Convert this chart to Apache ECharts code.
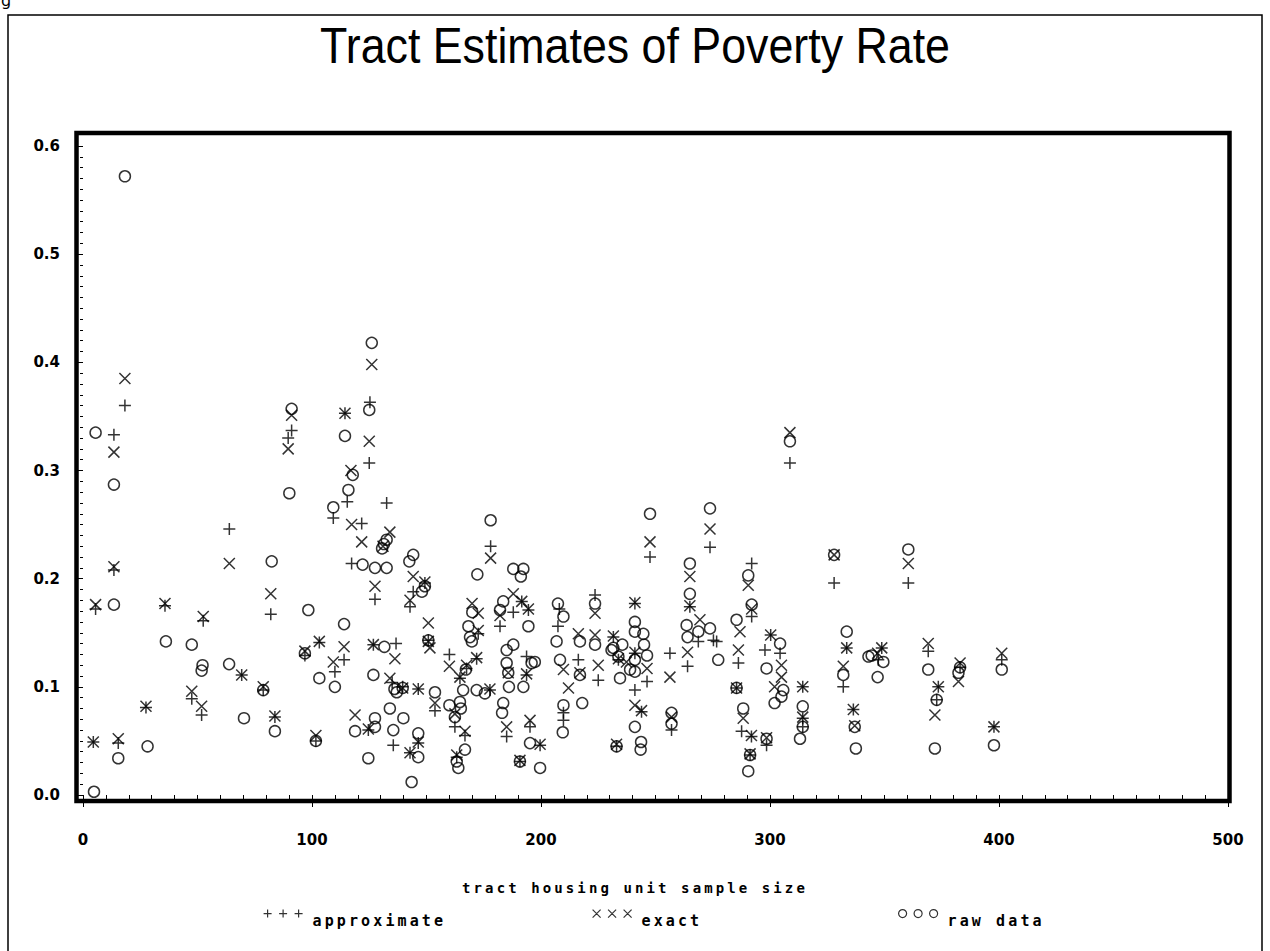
<!DOCTYPE html>
<html>
<head>
<meta charset="utf-8">
<script src="https://cdn.jsdelivr.net/npm/echarts@6/dist/echarts.min.js"></script>
<style>
  html, body { margin: 0; padding: 0; background: #fff; }
  #chart { width: 1270px; height: 951px; }
  #chart svg text[style*="Mono"] { letter-spacing: 3.1px; }
</style>
</head>
<body>
<div id="chart"></div>
<script>
// ---- data (x = tract housing unit sample size, y = poverty rate) ----
const approximate = [
[4.5,0.049],[5.5,0.172],[13.5,0.333],[13.5,0.208],[15.4,0.048],[18.3,0.360],[27.5,0.081],[35.8,0.175],[47.5,0.089],[51.8,0.074],[52.5,0.161],[63.9,0.246],[69.3,0.111],
[78.7,0.097],[82.0,0.167],[83.8,0.072],[89.6,0.330],[91.1,0.337],[96.9,0.129],[101.7,0.050],[103.2,0.141],[109.3,0.256],[110.0,0.114],[114.0,0.125],[114.4,0.353],[115.4,0.271],[117.3,0.214],[121.7,0.251],[124.6,0.060],[125.0,0.307],[125.3,0.363],[126.8,0.139],[127.5,0.181],[132.6,0.270],[135.0,0.104],[135.5,0.046],[136.7,0.140],
[139.6,0.100],[142.8,0.174],[142.8,0.039],[144.2,0.188],[146.4,0.098],[146.4,0.048],[149.3,0.196],[150.8,0.143],[153.7,0.078],[160.0,0.130],[162.4,0.063],[163.2,0.035],[164.6,0.108],[166.8,0.055],[167.5,0.117],[171.9,0.126],[172.6,0.149],[177.7,0.097],[178.0,0.230],[182.1,0.156],[185.0,0.054],[187.9,0.169],[190.8,0.031],[191.6,0.179],[193.7,0.128],[193.7,0.111],[194.5,0.171],[195.2,0.063],[199.6,0.046],
[207.4,0.156],[208.0,0.172],[209.8,0.076],[209.8,0.069],[216.3,0.125],[223.6,0.185],[225.0,0.106],[231.6,0.146],[233.0,0.045],[233.8,0.125],[241.0,0.177],[241.0,0.131],[241.0,0.097],[243.9,0.077],[246.3,0.105],[247.6,0.220],[256.3,0.131],[257.0,0.060],[264.0,0.119],[265.0,0.174],[268.7,0.142],[273.8,0.229],[275.3,0.143],
[276.7,0.142],[285.4,0.099],[286.2,0.122],[287.6,0.059],[291.3,0.037],[291.9,0.054],[292.0,0.214],[292.0,0.165],[297.8,0.134],[298.5,0.046],[300.3,0.148],[304.4,0.131],[308.7,0.307],[314.3,0.100],[314.3,0.071],[314.3,0.063],[328.0,0.196],[332.0,0.100],[333.5,0.136],[336.4,0.079],[347.3,0.125],[348.8,0.136],[360.4,0.196],[369.1,0.133],[372.8,0.088],[373.5,0.100],[383.0,0.118],[397.8,0.063],[401.2,0.125]
];
const exact = [
[4.5,0.049],[5.5,0.176],[13.5,0.317],[13.5,0.211],[15.4,0.052],[18.3,0.385],[27.5,0.082],[35.8,0.177],[47.5,0.096],[51.8,0.082],[52.5,0.165],[63.9,0.214],[69.3,0.111],
[78.7,0.100],[82.0,0.186],[83.8,0.073],[89.6,0.320],[91.1,0.351],[96.9,0.133],[101.7,0.055],[103.2,0.142],[109.3,0.123],[114.0,0.137],[114.4,0.353],[117.0,0.300],[117.3,0.250],[118.8,0.074],[121.7,0.234],[124.6,0.061],[125.0,0.327],[126.1,0.398],[126.8,0.139],[127.5,0.193],[131.0,0.230],[134.0,0.243],[134.0,0.108],[136.2,0.126],
[139.6,0.099],[142.8,0.180],[142.8,0.039],[144.2,0.202],[146.4,0.098],[146.4,0.049],[149.3,0.197],[150.8,0.159],[150.8,0.142],[151.5,0.136],[153.7,0.085],[160.0,0.119],[162.4,0.075],[163.2,0.037],[164.6,0.109],[166.8,0.059],[167.5,0.120],[169.9,0.177],[171.9,0.127],[172.6,0.168],[172.6,0.152],[177.7,0.098],[178.0,0.219],[182.1,0.166],[185.0,0.063],[185.7,0.113],[187.9,0.186],[190.8,0.032],[191.6,0.179],[193.7,0.112],[194.5,0.172],[195.2,0.069],[199.6,0.047],
[209.8,0.116],[212.0,0.099],[216.3,0.149],[217.0,0.113],[223.6,0.168],[223.6,0.148],[225.0,0.120],[231.6,0.147],[233.0,0.047],[233.8,0.126],[237.3,0.123],[241.0,0.178],[241.0,0.132],[241.0,0.083],[243.9,0.078],[246.3,0.117],[247.6,0.234],[256.3,0.109],[257.0,0.072],[264.0,0.132],[265.0,0.202],[265.0,0.175],[269.4,0.162],[273.8,0.246],
[285.4,0.099],[286.2,0.134],[286.9,0.151],[288.3,0.071],[290.5,0.194],[291.3,0.038],[291.9,0.055],[292.0,0.172],[298.5,0.053],[300.3,0.148],[302.0,0.100],[305.0,0.120],[305.0,0.109],[308.7,0.335],[314.3,0.100],[314.3,0.072],[328.0,0.222],[332.0,0.119],[333.5,0.136],[336.4,0.079],[337.0,0.064],[347.0,0.131],[348.8,0.136],[360.4,0.214],[369.1,0.140],[372.0,0.074],[373.5,0.100],[382.3,0.105],[383.0,0.122],[397.8,0.063],[401.2,0.131]
];
const rawData = [
[4.8,0.003],[5.5,0.335],[13.5,0.287],[13.5,0.176],[15.4,0.034],[18.3,0.572],[28.2,0.045],[36.2,0.142],[47.5,0.139],[51.8,0.115],[52.2,0.120],[63.8,0.121],[70.3,0.071],
[78.7,0.097],[82.4,0.216],[83.8,0.059],[90.1,0.279],[91.1,0.357],[96.9,0.131],[98.4,0.171],[101.7,0.050],[103.2,0.108],[109.3,0.266],[110.0,0.100],[114.0,0.158],[114.4,0.332],[115.9,0.282],[117.8,0.296],[118.8,0.059],[122.1,0.213],[124.6,0.034],[125.0,0.356],[126.1,0.418],[126.8,0.111],[127.5,0.210],[127.5,0.071],[127.5,0.063],[130.6,0.228],[131.4,0.232],[131.6,0.137],[132.6,0.236],[132.6,0.210],[134.0,0.080],[135.5,0.060],[136.0,0.098],[137.0,0.095],
[139.6,0.099],[139.9,0.071],[142.5,0.216],[143.5,0.012],[144.2,0.222],[146.4,0.057],[146.4,0.035],[148.0,0.188],[149.3,0.193],[150.8,0.143],[153.7,0.095],[160.0,0.083],[162.4,0.072],[163.2,0.031],[163.9,0.025],[164.6,0.086],[165.0,0.080],[166.0,0.097],[166.8,0.042],[167.2,0.116],[168.3,0.156],[169.0,0.146],[169.8,0.142],[170.0,0.169],[171.9,0.097],[172.2,0.204],[175.5,0.094],[178.0,0.254],[182.1,0.171],[183.0,0.076],[183.5,0.179],[183.5,0.085],[185.0,0.134],[185.0,0.122],[185.7,0.113],[186.0,0.100],[187.9,0.209],[187.9,0.139],[190.8,0.031],[191.2,0.202],[192.3,0.209],[192.3,0.100],[194.5,0.156],[195.2,0.048],[195.9,0.122],[197.3,0.123],[199.6,0.025],
[206.8,0.142],[207.4,0.177],[208.3,0.125],[209.5,0.058],[209.8,0.165],[209.8,0.083],[217.0,0.142],[217.0,0.111],[218.0,0.085],[223.6,0.177],[223.6,0.139],[230.8,0.134],[231.6,0.136],[233.0,0.045],[233.8,0.128],[234.5,0.108],[235.5,0.139],[238.9,0.116],[241.0,0.160],[241.0,0.151],[241.0,0.125],[241.0,0.114],[241.0,0.063],[243.5,0.042],[243.7,0.049],[244.7,0.149],[245.0,0.139],[246.3,0.129],[247.6,0.260],[257.0,0.076],[257.0,0.066],[263.6,0.157],[264.0,0.146],[265.0,0.214],[265.0,0.186],[268.7,0.151],[273.8,0.265],[273.8,0.154],
[277.4,0.125],[285.4,0.162],[285.4,0.099],[288.3,0.080],[290.5,0.203],[290.5,0.022],[291.3,0.037],[292.0,0.176],[298.5,0.117],[298.5,0.052],[302.0,0.085],[304.4,0.140],[305.0,0.091],[305.8,0.097],[308.7,0.327],[313.1,0.052],[314.3,0.082],[314.3,0.063],[328.0,0.222],[332.0,0.111],[333.5,0.151],[337.0,0.063],[337.5,0.043],[343.0,0.128],[344.4,0.129],[347.0,0.109],[349.5,0.123],[360.4,0.227],[369.1,0.116],[372.0,0.043],[372.8,0.088],[382.3,0.113],[383.0,0.118],[397.8,0.046],[401.2,0.116]
];
const seriesNames = ['approximate', 'exact', 'raw data'];
const chartTitle = 'Tract Estimates of Poverty Rate';
const xAxisTitle = 'tract housing unit sample size';

// ---- styling ----
const MONO = "'DejaVu Sans Mono', monospace";
const TICKFONT = "'DejaVu Sans', sans-serif";
const PLUS = 'path://M0,5L10,5M5,0L5,10';
const CROSS = 'path://M0,0L10,10M10,0L0,10';
// legend icons: three symbols each, with an extra move-to that leaves room right/below so the label sits lower
const PLUS3 = 'path://M0,4L8,4M4,0L4,8M15.5,4L23.5,4M19.5,0L19.5,8M31,4L39,4M35,0L35,8M44,22';
const CROSS3 = 'path://M0,0L8,8M8,0L0,8M15.5,0L23.5,8M23.5,0L15.5,8M31,0L39,8M39,0L31,8M44,22';
const CIRC3 = 'path://M0,4A4,4 0 1,0 8,4A4,4 0 1,0 0,4ZM15.5,4A4,4 0 1,0 23.5,4A4,4 0 1,0 15.5,4ZM31,4A4,4 0 1,0 39,4A4,4 0 1,0 31,4ZM44,22';
const markStyle = { color: 'transparent', borderColor: '#000', borderWidth: 1.5 };
const legendText = { fontFamily: MONO, fontWeight: 'bold', fontSize: 15, color: '#000' };

function legendAt(left, name, icon) {
  return {
    left: left, top: 909, padding: 0, selectedMode: false,
    itemWidth: 44, itemHeight: 22,
    textStyle: legendText,
    data: [{ name: name, icon: icon, itemStyle: { color: 'transparent', borderColor: '#000', borderWidth: 1.2 } }]
  };
}

const chart = echarts.init(document.getElementById('chart'), null, { renderer: 'svg' });
chart.setOption({
  animation: false,
  backgroundColor: '#fff',
  title: [
    { text: xAxisTitle, left: 'center', top: 876,
      textStyle: { fontFamily: MONO, fontSize: 14, fontWeight: 'bold', color: '#000' } }
  ],
  legend: [ legendAt(263, seriesNames[0], PLUS3), legendAt(592, seriesNames[1], CROSS3), legendAt(898, seriesNames[2], CIRC3) ],
  grid: { left: 83, right: 42, top: 146, bottom: 156 },
  xAxis: {
    type: 'value', min: 0, max: 500, interval: 100, offset: 10,
    axisLine: { show: false },
    axisTick: { show: true, length: 12, lineStyle: { color: '#000', width: 1 } },
    minorTick: { show: true, splitNumber: 10, length: 7, lineStyle: { color: '#000', width: 1 } },
    splitLine: { show: false },
    axisLabel: { margin: 27, color: '#000', fontFamily: TICKFONT, fontWeight: 'bold', fontSize: 15 }
  },
  yAxis: {
    type: 'value', min: 0, max: 0.6, interval: 0.1, offset: 9,
    axisLine: { show: false },
    axisTick: { show: true, length: 6, lineStyle: { color: '#000', width: 1 } },
    minorTick: { show: true, splitNumber: 10, length: 3, lineStyle: { color: '#000', width: 1 } },
    splitLine: { show: false },
    axisLabel: { margin: 14, color: '#000', fontFamily: TICKFONT, fontWeight: 'bold', fontSize: 15,
      formatter: v => v.toFixed(1) }
  },
  graphic: [
    { type: 'rect', shape: { x: 8, y: 15, width: 1254, height: 1000 }, style: { fill: 'none', stroke: '#000', lineWidth: 1.5 }, silent: true },
    { type: 'rect', shape: { x: 76.5, y: 133, width: 1153, height: 668 }, style: { fill: 'none', stroke: '#000', lineWidth: 4.5 }, silent: true, z: 10 },
    { type: 'text', left: 1, top: -8, style: { text: 'g', font: '16px "DejaVu Sans"', fill: '#000' }, silent: true },
    { type: 'text', x: 635, y: 46, scaleX: 0.895, silent: true,
      style: { text: chartTitle, font: '50px "Liberation Sans", Arial, sans-serif', fill: '#000', textAlign: 'center', textVerticalAlign: 'middle' } }
  ],
  series: [
    { name: seriesNames[0], type: 'scatter', data: approximate, symbol: PLUS, symbolSize: 12, itemStyle: markStyle, emphasis: { disabled: true }, clip: false },
    { name: seriesNames[1], type: 'scatter', data: exact, symbol: CROSS, symbolSize: 11, itemStyle: markStyle, emphasis: { disabled: true }, clip: false },
    { name: seriesNames[2], type: 'scatter', data: rawData, symbol: 'circle', symbolSize: 11, itemStyle: markStyle, emphasis: { disabled: true }, clip: false }
  ]
});
</script>
</body>
</html>
